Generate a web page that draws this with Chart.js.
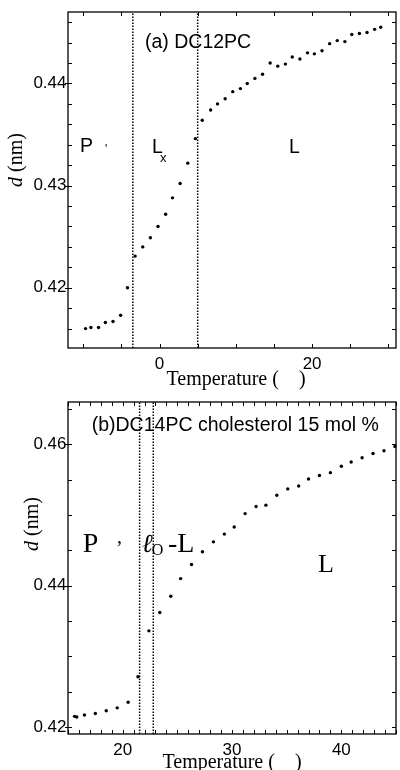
<!DOCTYPE html>
<html>
<head>
<meta charset="utf-8">
<script src="https://cdn.jsdelivr.net/npm/chart.js@4"></script>
<style>
  body { margin: 0; background: #fff; }
  .panel { position: absolute; left: 0; width: 400px; }
</style>
</head>
<body>
<div class="panel" style="top:385px; height:385px"><canvas id="chartB" width="400" height="385"></canvas></div>
<div class="panel" style="top:0; height:395px"><canvas id="chartA" width="400" height="395"></canvas></div>
<script>
// (a) DC12PC
const tempA = [-9.7, -9.0, -8.0, -7.1, -6.1, -5.1, -4.2, -3.2, -2.2, -1.2,
    -0.2, 0.8, 1.7, 2.7, 3.7, 4.7, 5.6, 6.7, 7.6, 8.6,
    9.6, 10.6, 11.5, 12.5, 13.5, 14.5, 15.5, 16.5, 17.4, 18.4,
    19.4, 20.3, 21.3, 22.3, 23.3, 24.3, 25.2, 26.2, 27.2, 28.2, 29.0];
const dA = [0.4160, 0.4161, 0.4161, 0.4166, 0.4167, 0.4173, 0.4200, 0.4231, 0.4240, 0.4249,
    0.4260, 0.4272, 0.4288, 0.4302, 0.4322, 0.4346, 0.4364, 0.4374, 0.4380, 0.4385,
    0.4392, 0.4395, 0.4400, 0.4405, 0.4409, 0.4420, 0.4417, 0.4419, 0.4426, 0.4424,
    0.4430, 0.4429, 0.4432, 0.4439, 0.4442, 0.4441, 0.4448, 0.4449, 0.4450, 0.4453, 0.4455];
const transA = [-3.5, 5.0];
const xTicksA = [0, 20];
const yTicksA = [0.42, 0.43, 0.44];

// (b) DC14PC cholesterol 15 mol %
const tempB = [15.6, 15.8, 16.5, 17.5, 18.5, 19.5, 20.5, 21.4, 22.4, 23.4,
    24.4, 25.3, 26.3, 27.3, 28.3, 29.3, 30.2, 31.2, 32.2, 33.1,
    34.1, 35.1, 36.1, 37.0, 38.0, 39.0, 40.0, 40.9, 41.9, 42.9, 43.9, 44.9];
const dB = [0.4215, 0.4214, 0.4217, 0.4219, 0.4223, 0.4227, 0.4235, 0.4271, 0.4336, 0.4362,
    0.4385, 0.4410, 0.4430, 0.4448, 0.4462, 0.4473, 0.4483, 0.4502, 0.4512, 0.4514,
    0.4528, 0.4537, 0.4541, 0.4551, 0.4556, 0.4560, 0.4569, 0.4575, 0.4581, 0.4587, 0.4591, 0.4597];
const transB = [21.55, 22.8];
const xTicksB = [20, 30, 40];
const yTicksB = [0.42, 0.44, 0.46];

const SANS = '"Liberation Sans", Arial, sans-serif';
const SERIF = '"Liberation Serif", "Times New Roman", serif';

// inward tick marks on all four sides + frame
const frameTicks = {
    id: "frameTicks",
    afterDraw(chart, args, opts) {
        const { ctx, chartArea: a, scales: { x, y } } = chart;
        ctx.save();
        ctx.strokeStyle = "#000";
        ctx.lineWidth = 1;
        ctx.beginPath();
        let i0 = Math.ceil(x.min / opts.xStep - 1e-9);
        for (let i = i0; i * opts.xStep <= x.max + 1e-9; i++) {
            const px = Math.round(x.getPixelForValue(i * opts.xStep)) + 0.5;
            ctx.moveTo(px, a.bottom); ctx.lineTo(px, a.bottom - 4);
            ctx.moveTo(px, a.top); ctx.lineTo(px, a.top + 4);
        }
        i0 = Math.ceil(y.min / opts.yStep - 1e-9);
        for (let i = i0; i * opts.yStep <= y.max + 1e-12; i++) {
            const v = i * opts.yStep;
            const py = Math.round(y.getPixelForValue(v)) + 0.5;
            const major = opts.yMajor.some(m => Math.abs(m - v) < 1e-9);
            ctx.moveTo(a.left - (major ? 3 : 0), py); ctx.lineTo(a.left + 4, py);
            ctx.moveTo(a.right, py); ctx.lineTo(a.right - 4, py);
        }
        ctx.stroke();
        ctx.lineWidth = 1.3;
        ctx.strokeRect(a.left, a.top, a.right - a.left, a.bottom - a.top);
        ctx.restore();
    }
};

// free text: titles, phase labels, axis titles
const textLabels = {
    id: "textLabels",
    afterDraw(chart, args, opts) {
        const ctx = chart.ctx;
        ctx.save();
        ctx.fillStyle = "#000";
        ctx.textBaseline = "alphabetic";
        opts.items.forEach(t => {
            ctx.font = t.font;
            ctx.textAlign = t.align || "left";
            ctx.fillText(t.text, t.x, t.y);
        });
        // rotated y title: italic d + (nm)
        const yt = opts.yTitle;
        ctx.translate(yt.x, yt.y);
        ctx.rotate(-Math.PI / 2);
        ctx.textAlign = "left";
        ctx.textBaseline = "middle";
        ctx.font = "italic 20px " + SERIF;
        const wd = ctx.measureText("d").width;
        ctx.font = "20px " + SERIF;
        const wr = ctx.measureText(" (nm)").width;
        const x0 = -(wd + wr) / 2;
        ctx.font = "italic 20px " + SERIF;
        ctx.fillText("d", x0, 0);
        ctx.font = "20px " + SERIF;
        ctx.fillText(" (nm)", x0 + wd, 0);
        ctx.restore();
    }
};

function vline(t, y0, y1) {
    return {
        type: "line",
        data: [{ x: t, y: y0 }, { x: t, y: y1 }],
        borderColor: "#000",
        borderWidth: 1.5,
        borderDash: [1.5, 1.5],
        pointRadius: 0,
        clip: false
    };
}

function chartCreate(id, cfg) {
    const pts = cfg.temps.map((t, i) => ({ x: t, y: cfg.d[i] }));
    const datasets = [{
        data: pts,
        pointRadius: 1.7,
        pointBackgroundColor: "#000",
        pointBorderWidth: 0,
        clip: false
    }];
    cfg.trans.forEach(t => datasets.push(vline(t, cfg.yMin, cfg.yMax)));

    return new Chart(document.getElementById(id).getContext("2d"), {
        type: "scatter",
        data: { datasets },
        options: {
            responsive: false,
            animation: false,
            layout: { padding: { top: cfg.top, right: 1 } },
            plugins: {
                legend: { display: false },
                tooltip: { enabled: false },
                frameTicks: { xStep: cfg.xStep, yStep: cfg.yStep, yMajor: cfg.yTicks },
                textLabels: { items: cfg.labels, yTitle: cfg.yTitle }
            },
            scales: {
                x: {
                    type: "linear",
                    min: cfg.xMin,
                    max: cfg.xMax,
                    afterFit: s => { s.height = cfg.xAxisH; },
                    afterBuildTicks: s => { s.ticks = cfg.xTicks.map(v => ({ value: v })); },
                    grid: { display: false, drawTicks: false },
                    border: { display: false },
                    ticks: { color: "#000", padding: 6, maxRotation: 0, font: { family: SANS, size: 17 } }
                },
                y: {
                    type: "linear",
                    min: cfg.yMin,
                    max: cfg.yMax,
                    afterFit: s => { s.width = 68; },
                    afterBuildTicks: s => { s.ticks = cfg.yTicks.map(v => ({ value: v })); },
                    grid: { display: false, drawTicks: false },
                    border: { display: false },
                    ticks: {
                        color: "#000", padding: 1.5, font: { family: SANS, size: 17 },
                        callback: v => v.toFixed(2)
                    }
                }
            }
        },
        plugins: [frameTicks, textLabels]
    });
}

chartCreate("chartA", {
    temps: tempA, d: dA, trans: transA,
    xMin: -12, xMax: 31, yMin: 0.4141, yMax: 0.447,
    xTicks: xTicksA, yTicks: yTicksA, xStep: 5, yStep: 0.002,
    top: 12, xAxisH: 47,
    yTitle: { x: 17, y: 160 },
    labels: [
        { text: "(a) DC12PC", x: 145, y: 48, font: "19.5px " + SANS },
        { text: "P", x: 80, y: 152, font: "19.5px " + SANS },
        { text: "'", x: 105, y: 153, font: "12px " + SANS },
        { text: "L", x: 152, y: 153, font: "19.5px " + SANS },
        { text: "x", x: 160, y: 162, font: "13px " + SANS },
        { text: "L", x: 289, y: 153, font: "19.5px " + SANS },
        { text: "Temperature (    )", x: 236, y: 385, font: "20px " + SERIF, align: "center" }
    ]
});

chartCreate("chartB", {
    temps: tempB, d: dB, trans: transB,
    xMin: 15, xMax: 45, yMin: 0.419, yMax: 0.466,
    xTicks: xTicksB, yTicks: yTicksB, xStep: 1, yStep: 0.005,
    top: 17, xAxisH: 36,
    yTitle: { x: 33, y: 524 - 385 },
    labels: [
        { text: "(b)DC14PC cholesterol 15 mol %", x: 91.7, y: 430.7 - 385, font: "19.5px " + SANS },
        { text: "P", x: 82.7, y: 552.3 - 385, font: "28px " + SERIF },
        { text: ",", x: 117, y: 543 - 385, font: "20px " + SERIF },
        { text: "\u2113", x: 141.7, y: 552 - 385, font: "italic 26px " + SERIF },
        { text: "O", x: 151.7, y: 555 - 385, font: "16px " + SERIF },
        { text: "-L", x: 168, y: 552 - 385, font: "28px " + SERIF },
        { text: "L", x: 318, y: 571.7 - 385, font: "26px " + SERIF },
        { text: "Temperature (    )", x: 232, y: 768 - 385, font: "20px " + SERIF, align: "center" }
    ]
});
</script>
</body>
</html>
